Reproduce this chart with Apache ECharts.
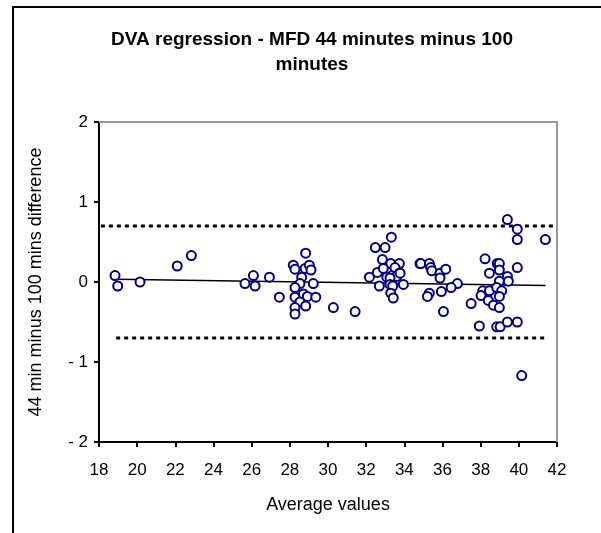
<!DOCTYPE html>
<html>
<head>
<meta charset="utf-8">
<script src="https://cdn.jsdelivr.net/npm/echarts@6/dist/echarts.min.js"></script>
<style>html,body{margin:0;padding:0;background:#fff;}#c{width:601px;height:533px;}</style>
</head>
<body>
<div id="c"></div>
<script>
var xValues = [18.84,18.98,20.15,22.1,22.84,25.65,26.09,26.18,26.93,27.45,
  28.18,28.27,28.83,28.8,29.02,29.11,28.62,28.53,28.27,29.23,
  28.27,28.71,28.92,29.36,28.53,28.83,28.27,28.27,30.28,31.42,
  32.17,32.48,32.99,33.32,32.85,32.59,33.08,33.29,33.74,33.51,
  32.9,33.74,33.6,33.08,33.25,32.69,33.25,33.95,33.39,33.29,
  33.42,34.82,33.78,34.86,35.31,35.38,35.44,35.87,35.87,36.17,
  36.78,36.45,35.94,35.31,35.21,36.05,37.5,37.93,38.23,38.46,
  38.87,38.98,38.98,38.98,39.4,39.45,38.11,38.02,38.46,38.84,
  39.1,38.98,38.4,38.67,38.98,38.84,39.02,39.4,39.92,39.4,
  39.92,39.92,41.39,39.92,40.15];
var yValues = [0.08,-0.05,0.00,0.20,0.33,-0.02,0.08,-0.05,0.06,-0.19,
  0.21,0.16,0.36,0.17,0.21,0.15,0.06,-0.02,-0.07,-0.02,
  -0.19,-0.15,-0.18,-0.19,-0.25,-0.30,-0.32,-0.40,-0.32,-0.37,
  0.06,0.43,0.43,0.56,0.28,0.12,0.17,0.23,0.23,0.18,
  0.17,0.11,0.07,0.06,0.05,-0.05,-0.03,-0.03,-0.05,-0.14,
  -0.20,0.23,0.11,0.23,0.23,0.18,0.14,0.11,0.05,0.16,
  -0.02,-0.07,-0.12,-0.14,-0.18,-0.37,-0.27,-0.55,0.29,0.11,
  0.23,0.23,0.15,0.01,0.07,0.01,-0.11,-0.17,-0.11,-0.07,
  -0.11,-0.18,-0.23,-0.29,-0.32,-0.56,-0.56,-0.50,-0.50,0.78,
  0.66,0.53,0.53,0.18,-1.17];
var regressionX = [18.9, 41.4];
var regressionY = [0.035, -0.045];
var upperLimitX = [18.1, 42];
var upperLimitY = [0.70, 0.70];
var lowerLimitX = [18.9, 41.4];
var lowerLimitY = [-0.70, -0.70];
var xTicks = [18,20,22,24,26,28,30,32,34,36,38,40,42];
var yTicks = [-2,-1,0,1,2];

function pairs(a, b){ return a.map(function(v,i){ return [v, b[i]]; }); }

var chart = echarts.init(document.getElementById('c'), null, {renderer:'canvas'});
var font = 'Liberation Sans, Arial, sans-serif';
chart.setOption({
  animation:false,
  backgroundColor:'#fff',
  title:{
    text:'DVA regression - MFD 44 minutes minus 100\nminutes',
    left:307, top:22, textAlign:'center',
    textStyle:{fontFamily:font, fontSize:19, fontWeight:'bold', color:'#000', lineHeight:25}
  },
  graphic:[
    {type:'polyline', shape:{points:[[13,533],[13,7],[601,7]]}, style:{stroke:'#000', lineWidth:2, fill:null}, z:100},
    {type:'polyline', shape:{points:[[99,122],[557,122],[557,442]]}, style:{stroke:'#999', lineWidth:2, fill:null}, z:50}
  ],
  grid:{left:99, right:44, top:122, bottom:91, show:false},
  xAxis:{
    type:'value', min:18, max:42, interval:2,
    name:'Average values', nameLocation:'middle', nameGap:54,
    nameTextStyle:{fontFamily:font, fontSize:18, color:'#000'},
    axisLine:{show:true, onZero:false, lineStyle:{color:'#000', width:2}},
    axisTick:{show:true, inside:false, length:5, lineStyle:{color:'#000', width:2}},
    axisLabel:{fontFamily:font, fontSize:17, color:'#000', margin:20,
      formatter:function(v){ return xTicks.indexOf(v) >= 0 ? String(v) : ''; }},
    splitLine:{show:false}
  },
  yAxis:{
    type:'value', min:-2, max:2, interval:1,
    name:'44 min minus 100 mins difference', nameLocation:'middle', nameGap:54, nameRotate:90,
    nameTextStyle:{fontFamily:font, fontSize:18, color:'#000'},
    axisLine:{show:true, onZero:false, lineStyle:{color:'#000', width:2}},
    axisTick:{show:true, inside:false, length:5, lineStyle:{color:'#000', width:2}},
    axisLabel:{fontFamily:font, fontSize:17, color:'#000', margin:11,
      formatter:function(v){ return yTicks.indexOf(v) >= 0 ? (v < 0 ? '- ' + (-v) : String(v)) : ''; }},
    splitLine:{show:false}
  },
  series:[
    {type:'line', data:pairs(upperLimitX, upperLimitY), symbol:'none', silent:true,
      lineStyle:{color:'#000', width:3, type:[4,4]}, z:1},
    {type:'line', data:pairs(lowerLimitX, lowerLimitY), symbol:'none', silent:true,
      lineStyle:{color:'#000', width:3, type:[4,4]}, z:1},
    {type:'line', data:pairs(regressionX, regressionY), symbol:'none', silent:true,
      lineStyle:{color:'#000', width:1.5}, z:2},
    {type:'scatter', data:pairs(xValues, yValues), symbol:'circle', symbolSize:9,
      itemStyle:{color:'#fff', borderColor:'#000080', borderWidth:2, opacity:1}, z:3}
  ]
});
</script>
</body>
</html>
